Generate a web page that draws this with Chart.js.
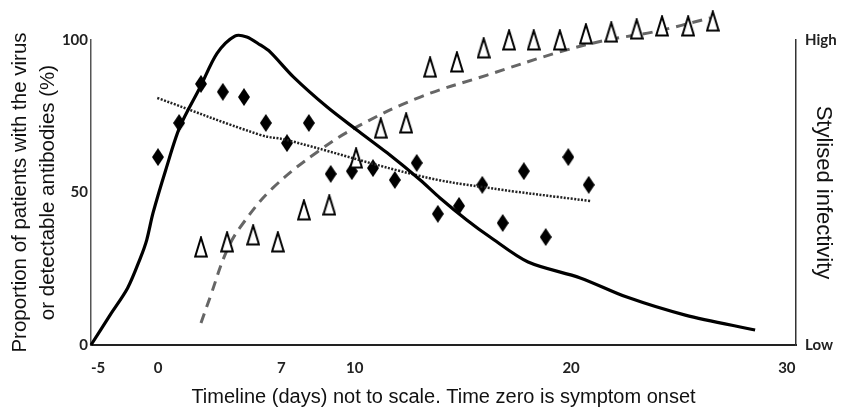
<!DOCTYPE html>
<html>
<head>
<meta charset="utf-8">
<script src="https://cdn.jsdelivr.net/npm/chart.js@4"></script>
<style>
  html, body { margin: 0; padding: 0; background: #fff; }
  #wrap { width: 841px; height: 415px; }
</style>
</head>
<body>
<div id="wrap"><canvas id="myChart"></canvas></div>
<script>
// x = position along the timeline (axis is not to scale), 0..100
const tickPos = [1.0, 9.5, 27.0, 37.4, 68.1, 98.7];
const tickLabels = ['-5', '0', '7', '10', '20', '30'];

// diamonds: patients with the virus (%)
const virusX = [9.5, 12.5, 15.6, 18.7, 21.7, 24.8, 27.8, 30.9, 34.0, 37.0, 40.0,
                43.1, 46.2, 49.2, 52.2, 55.5, 58.4, 61.4, 64.5, 67.7, 70.6];
const virusY = [61.6, 72.8, 85.6, 83.0, 81.3, 72.8, 66.2, 72.8, 56.1, 57.0, 58.0,
                54.1, 59.7, 43.0, 45.6, 52.5, 40.0, 57.0, 35.4, 61.6, 52.5];

// triangles: detectable antibodies (%)
const abX = [15.6, 19.3, 23.0, 26.5, 30.2, 33.8, 37.6, 41.1, 44.7, 48.1, 51.9,
             55.7, 59.3, 62.8, 66.5, 70.2, 73.8, 77.4, 81.0, 84.7, 88.2];
const abY = [32.1, 33.8, 36.1, 33.8, 44.3, 45.9, 61.3, 71.1, 72.8, 91.1, 92.8,
             97.4, 100, 100, 100, 102.0, 102.6, 103.6, 104.6, 104.6, 106.2];

// trend lines
const virusTrendX = [9.4, 24.0, 27.8, 46.7, 55.5, 70.8];
const virusTrendY = [81.0, 68.9, 67.2, 55.4, 51.8, 47.2];
const abTrendX = [15.6, 16.9, 19.3, 21.6, 25.8, 32.1, 37.7, 46.7, 56.2, 66.5, 73.2, 79.7, 87.8];
const abTrendY = [7.2, 15.7, 31.1, 40.0, 51.5, 63.3, 71.5, 81.3, 88.5, 96.1, 100, 102.6, 107.2];

// stylised infectivity (0 = Low, 100 = High)
const infX = [0, 2.7, 5.2, 7.0, 7.9, 8.8, 10.6, 12.6, 15.5, 17.9, 20.4, 22.1, 24.0, 25.4,
              28.7, 33.5, 37.7, 42.0, 46.7, 49.5, 53.3, 56.6, 62.0, 69.4, 76.0, 84.3, 94.2];
const infY = [0, 9.8, 18.7, 28.5, 34.4, 43.3, 57.4, 71.5, 84.6, 95.7, 101.3, 101.0, 98.4, 96.1,
              87.9, 78.0, 70.5, 63.0, 54.1, 48.2, 41.0, 35.4, 27.2, 22.0, 15.7, 9.8, 4.9];

function pts(xs, ys) {
  return xs.map((x, i) => ({ x: x, y: ys[i] }));
}

// marker shapes
const diamond = document.createElement('canvas');
diamond.width = 12; diamond.height = 18;
let g = diamond.getContext('2d');
g.fillStyle = '#000';
g.beginPath();
g.moveTo(6, 0); g.lineTo(12, 9); g.lineTo(6, 18); g.lineTo(0, 9);
g.closePath(); g.fill();

const tri = document.createElement('canvas');
tri.width = 14; tri.height = 22;
g = tri.getContext('2d');
g.fillStyle = '#fff';
g.strokeStyle = '#000';
g.lineWidth = 2;
g.beginPath();
g.moveTo(7, 1.5); g.lineTo(12.8, 20.5); g.lineTo(1.2, 20.5);
g.closePath(); g.fill(); g.stroke();

const tickFont = { family: 'Lato', size: 15, weight: 'bold' };

const ctx = document.getElementById('myChart');

new Chart(ctx, {
  type: 'scatter',
  data: {
    datasets: [
      {
        label: 'Stylised infectivity',
        data: pts(infX, infY),
        yAxisID: 'y2',
        showLine: true,
        borderColor: '#000',
        borderWidth: 3.2,
        pointRadius: 0,
        tension: 0.3,
        clip: false
      },
      {
        label: 'Virus trend',
        data: pts(virusTrendX, virusTrendY),
        showLine: true,
        borderColor: '#222',
        borderWidth: 2.5,
        borderDash: [2, 1.5],
        pointRadius: 0,
        tension: 0.4,
        clip: false
      },
      {
        label: 'Antibodies',
        data: pts(abX, abY),
        pointStyle: tri,
        pointRadius: 25, // big radius so marks above 100 are not skipped
        clip: false
      },
      {
        label: 'Antibody trend',
        data: pts(abTrendX, abTrendY),
        showLine: true,
        borderColor: '#666',
        borderWidth: 3,
        borderDash: [10, 7],
        pointRadius: 0,
        tension: 0.4,
        clip: false
      },
      {
        label: 'Virus',
        data: pts(virusX, virusY),
        pointStyle: diamond,
        pointRadius: 25,
        clip: false
      }
    ]
  },
  options: {
    responsive: true,
    maintainAspectRatio: false,
    animation: false,
    layout: { padding: { top: 40, left: 0, right: 0, bottom: 0 } },
    plugins: {
      legend: { display: false },
      tooltip: { enabled: false }
    },
    scales: {
      x: {
        type: 'linear',
        min: 0,
        max: 100,
        grid: { display: false, drawTicks: false },
        border: { display: true, color: '#222', width: 2 },
        afterBuildTicks: (s) => { s.ticks = tickPos.map(v => ({ value: v })); },
        afterFit: (s) => { s.height = 70; },
        ticks: {
          padding: 14,
          color: '#222',
          font: tickFont,
          autoSkip: false,
          maxRotation: 0,
          callback: (v) => tickLabels[tickPos.indexOf(v)]
        },
        title: {
          display: true,
          text: 'Timeline (days) not to scale. Time zero is symptom onset',
          color: '#111',
          font: { family: 'Liberation Sans', size: 20 },
          padding: { top: 0, bottom: 6 }
        }
      },
      y: {
        position: 'left',
        min: 0,
        max: 100,
        grid: { display: false, drawTicks: false },
        border: { display: true, color: '#555', width: 1.5 },
        afterBuildTicks: (s) => { s.ticks = [0, 50, 100].map(v => ({ value: v })); },
        afterFit: (s) => { s.width = 91; },
        ticks: { padding: 3, color: '#222', font: tickFont },
        title: {
          display: true,
          text: ['Proportion of patients with the virus', 'or detectable antibodies (%)'],
          color: '#111',
          font: { family: 'Liberation Sans', size: 20.5, lineHeight: 1.37 },
          padding: { top: 6, bottom: 0 }
        }
      },
      y2: {
        position: 'right',
        min: 0,
        max: 100,
        grid: { display: false, drawTicks: false },
        border: { display: true, color: '#333', width: 1.5 },
        afterBuildTicks: (s) => { s.ticks = [0, 100].map(v => ({ value: v })); },
        afterFit: (s) => { s.width = 45; },
        ticks: {
          padding: 9,
          color: '#222',
          font: tickFont,
          callback: (v) => (v === 100 ? 'High' : 'Low')
        },
        title: {
          display: true,
          text: 'Stylised infectivity',
          color: '#111',
          font: { family: 'Liberation Sans', size: 22 },
          padding: { top: 5, bottom: 0 }
        }
      }
    }
  }
});
</script>
</body>
</html>
